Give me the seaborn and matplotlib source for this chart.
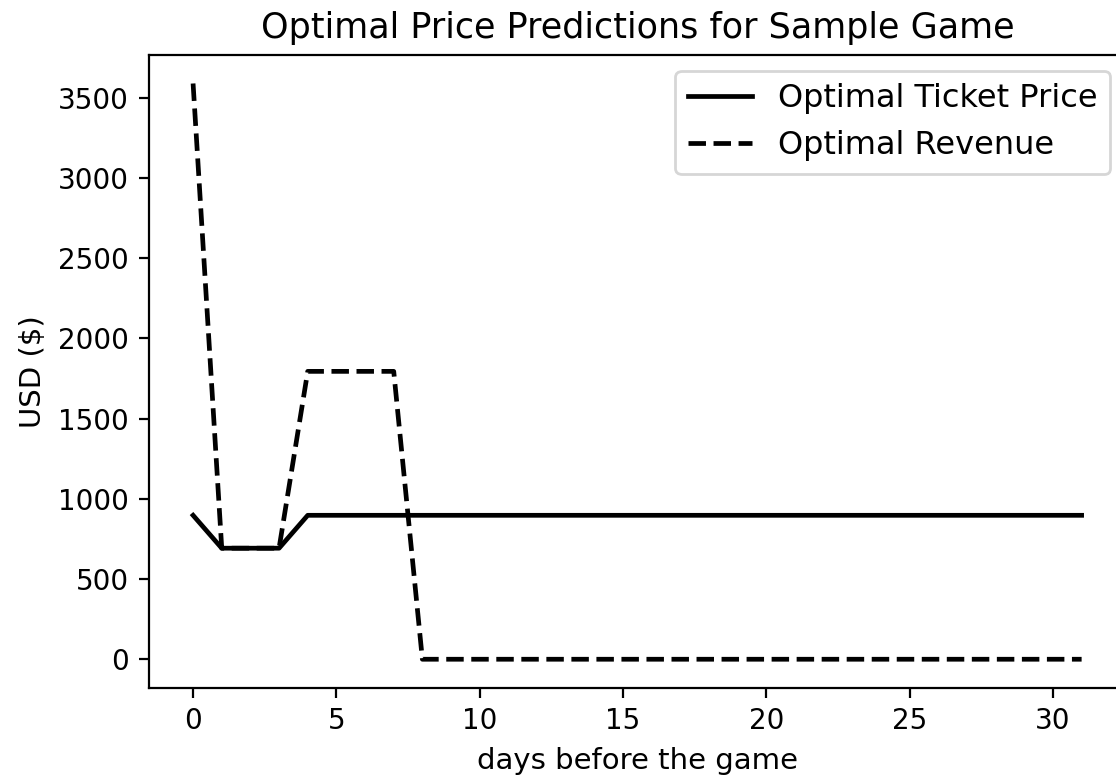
import matplotlib
matplotlib.use("Agg")
import matplotlib.pyplot as plt
import seaborn as sns
import numpy as np
import pandas as pd

days = list(range(32))
ticket_price = [897, 692, 692, 692] + [897] * 28
revenue = [3588, 692, 692, 692, 1794, 1794, 1794, 1794] + [0] * 24

plt.rcParams['font.family'] = ['DejaVu Sans']
fig = plt.figure(figsize=(5.58, 3.885), dpi=200)
ax = fig.add_axes([0.1332, 0.1145, 1.009 - 0.1332, 0.9296 - 0.1145])
sns.lineplot(x=days, y=ticket_price, color='black', linestyle='-', linewidth=1.7,
             label='Optimal Ticket Price', ax=ax)
sns.lineplot(x=days, y=revenue, color='black', linestyle='--', linewidth=1.7,
             label='Optimal Revenue', ax=ax)
ax.set_title('Optimal Price Predictions for Sample Game', fontsize=12.6)
ax.set_xlabel('days before the game', fontsize=10.5)
ax.set_ylabel('USD ($)', fontsize=10.5)
ax.set_xticks([0, 5, 10, 15, 20, 25, 30])
ax.legend(loc='upper right', fontsize=11.5)
fig.savefig('out.png', dpi=200)
